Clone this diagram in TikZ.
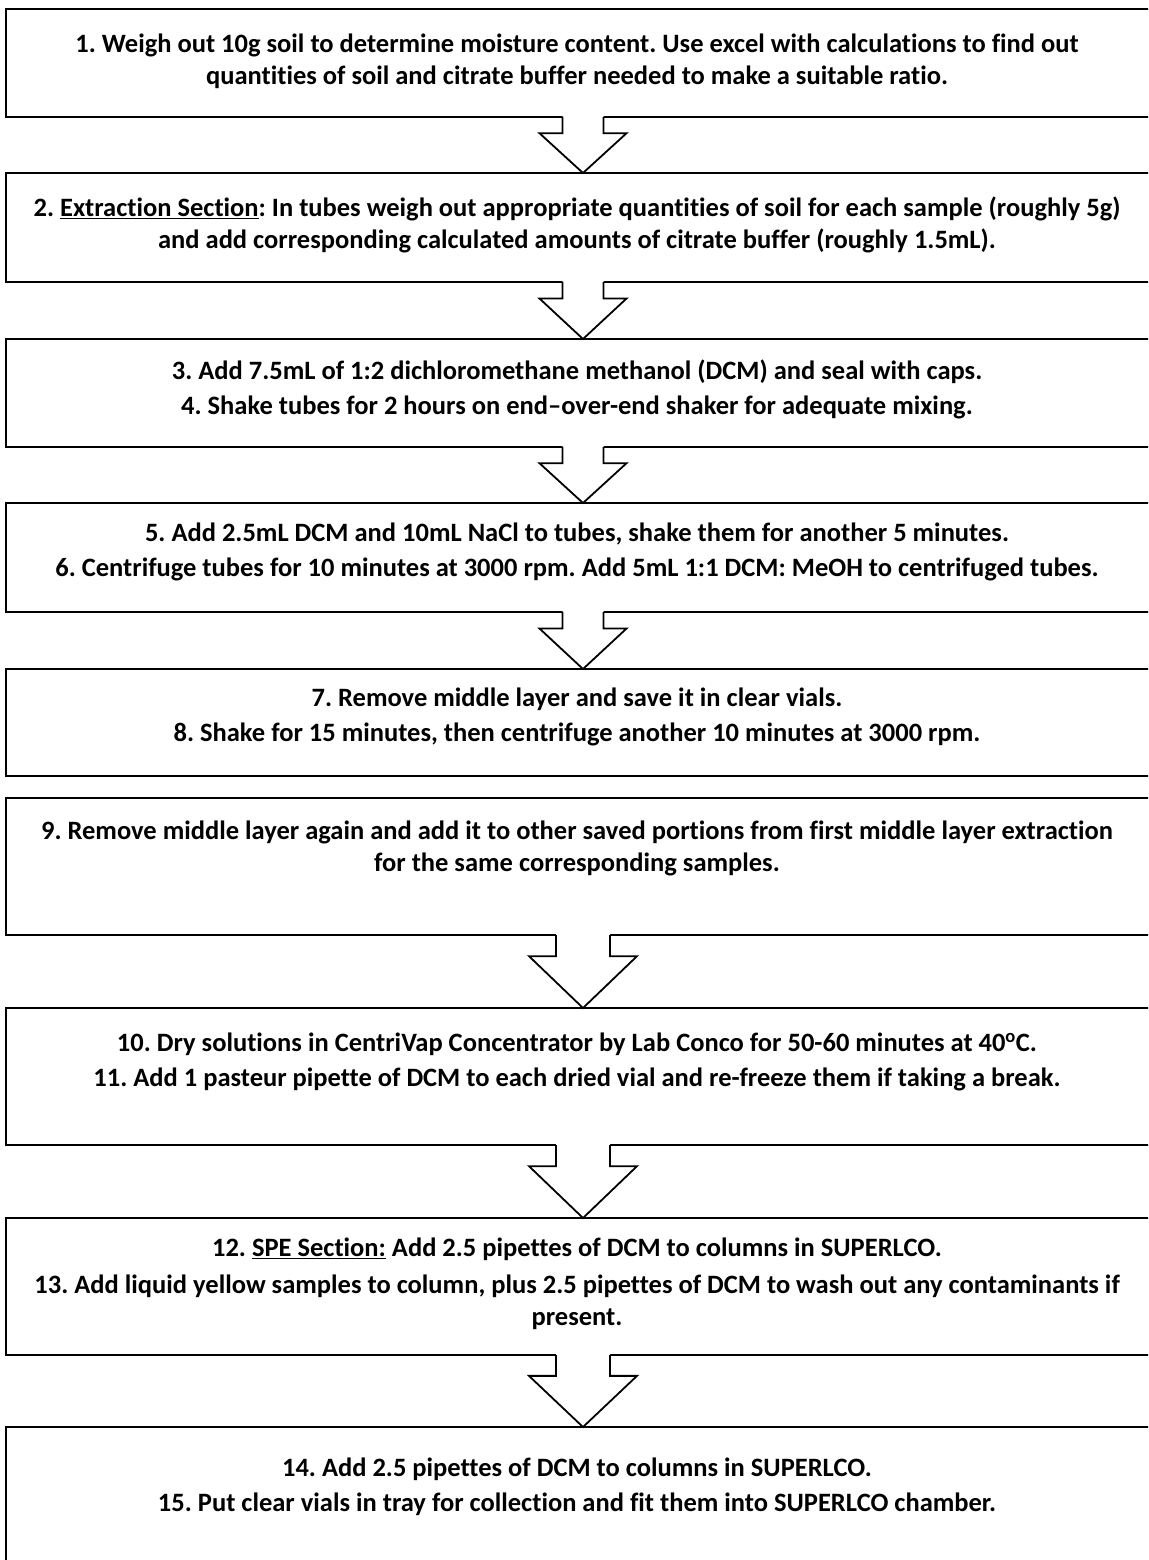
\documentclass[tikz,border=0pt]{standalone}
\usepackage{fontspec}
\setmainfont{Carlito}[Ligatures=NoCommon]
\usepackage{tikz}
\usetikzlibrary{positioning,calc}
\frenchspacing

\begin{document}
\begin{tikzpicture}[x=1pt, y=-1pt,
  stepbox/.style={draw, line width=2pt, minimum width=1154pt, outer sep=0pt, inner sep=0pt},
  steptext/.style={align=center, inner sep=0pt, font=\fontsize{26.5}{32}\selectfont\bfseries},
  arrowline/.style={line width=1.8pt, line join=miter}]

\clip (0,0) rectangle (1148,1560);
\useasboundingbox (0,0) rectangle (1148,1560);

% Boxes
\node[stepbox, minimum height=108pt] (b1) at (583,63) {};
\node[stepbox, minimum height=109pt, below=56pt of b1] (b2) {};
\node[stepbox, minimum height=108pt, below=57pt of b2] (b3) {};
\node[stepbox, minimum height=109pt, below=56pt of b3] (b4) {};
\node[stepbox, minimum height=107pt, below=57pt of b4] (b5) {};
\node[stepbox, minimum height=137pt, below=22pt of b5] (b6) {};
\node[stepbox, minimum height=137pt, below=73pt of b6] (b7) {};
\node[stepbox, minimum height=137pt, below=73pt of b7] (b8) {};
\node[stepbox, minimum height=180pt, below=72pt of b8] (b9) {};

% Texts
\node[steptext] (t1) at (577,61) {1. Weigh out 10g soil to determine moisture content. Use excel with calculations to find out\\
  quantities of soil and citrate buffer needed to make a suitable ratio.};
\node[steptext] (t2) at (577,225) {2. \underline{Extraction Section}: In tubes weigh out appropriate quantities of soil for each sample (roughly 5g)\\
  and add corresponding calculated amounts of citrate buffer (roughly 1.5mL).};
\node[steptext] (t3) at (577,389) {3. Add 7.5mL of 1:2 dichloromethane methanol (DCM) and seal with caps.\\[3pt]
  4. Shake tubes for 2 hours on end--over-end shaker for adequate mixing.};
\node[steptext] (t4) at (577,552) {5. Add 2.5mL DCM and 10mL NaCl to tubes, shake them for another 5 minutes.\\[3pt]
  6. Centrifuge tubes for 10 minutes at 3000 rpm. Add 5mL 1:1 DCM: MeOH to centrifuged tubes.};
\node[steptext] (t5) at (577,717) {7. Remove middle layer and save it in clear vials.\\[3pt]
  8. Shake for 15 minutes, then centrifuge another 10 minutes at 3000 rpm.};
\node[steptext] (t6) at (577,848) {9. Remove middle layer again and add it to other saved portions from first middle layer extraction\\
  for the same corresponding samples.};
\node[steptext] (t7) at (577,1062) {10. Dry solutions in CentriVap Concentrator by Lab Conco for 50-60 minutes at 40\textsuperscript{o}C.\\[3pt]
  11. Add 1 pasteur pipette of DCM to each dried vial and re-freeze them if taking a break.};
\node[steptext] (t8) at (577,1284) {12. \underline{SPE Section:} Add 2.5 pipettes of DCM to columns in SUPERLCO.\\[5pt]
  13. Add liquid yellow samples to column, plus 2.5 pipettes of DCM to wash out any contaminants if\\
  present.};
\node[steptext] (t9) at (577,1487) {14. Add 2.5 pipettes of DCM to columns in SUPERLCO.\\[3pt]
  15. Put clear vials in tray for collection and fit them into SUPERLCO chamber.};

% Block arrows between boxes
\foreach \a/\b/\s/\h in {b1/b2/20.5/43.5, b2/b3/20.5/43.5, b3/b4/20.5/43.5, b4/b5/20.5/43.5,
    b6/b7/27/54, b7/b8/27/54, b8/b9/27/54} {
  \coordinate (top) at (\a.south);
  \coordinate (neck) at ($(\a.south)!0.29!(\b.north)$);
  \fill[white] ($(top)+(-\s,-2)$) -- ($(neck)+(-\s,0)$) -- ($(neck)+(-\h,0)$) -- (\b.north)
    -- ($(neck)+(\h,0)$) -- ($(neck)+(\s,0)$) -- ($(top)+(\s,-2)$) -- cycle;
  \draw[arrowline] (top) ++(-\s,0) -- ($(neck)+(-\s,0)$) -- ($(neck)+(-\h,0)$) -- (\b.north)
    -- ($(neck)+(\h,0)$) -- ($(neck)+(\s,0)$) -- ($(top)+(\s,0)$);
}

\end{tikzpicture}
\end{document}
